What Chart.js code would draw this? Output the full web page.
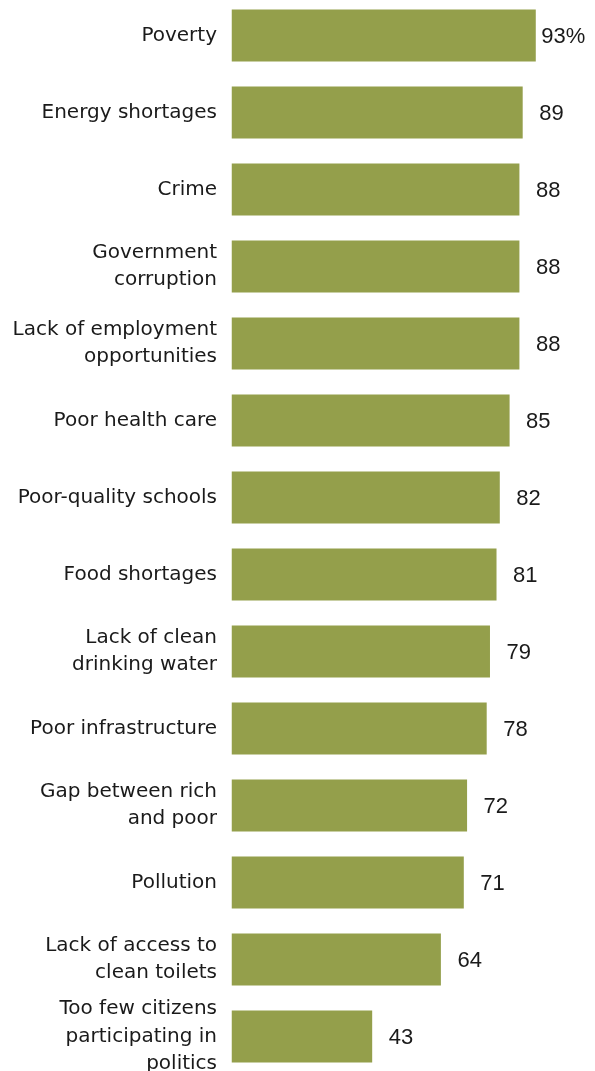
<!DOCTYPE html>
<html>
<head>
  <meta charset="utf-8" />
  <title>Problems in the country</title>
  <script src="https://cdn.jsdelivr.net/npm/chart.js@4.4.0/dist/chart.umd.min.js"></script>
  <style>
    html, body {
      margin: 0;
      padding: 0;
      background: #fff;
      overflow: hidden;
    }
    .chart-container {
      position: absolute;
      left: 0;
      top: -3px;
      width: 595px;
      height: 1078px;
    }
  </style>
</head>
<body>

<div class="chart-container">
  <canvas id="problemsChart"></canvas>
</div>

<script>
  // Share saying each is a very big / moderately big problem (%)
  const categories = [
    'Poverty',
    'Energy shortages',
    'Crime',
    ['Government', 'corruption'],
    ['Lack of employment', 'opportunities'],
    'Poor health care',
    'Poor-quality schools',
    'Food shortages',
    ['Lack of clean', 'drinking water'],
    'Poor infrastructure',
    ['Gap between rich', 'and poor'],
    'Pollution',
    ['Lack of access to', 'clean toilets'],
    ['Too few citizens', 'participating in', 'politics']
  ];
  const values = [93, 89, 88, 88, 88, 85, 82, 81, 79, 78, 72, 71, 64, 43];

  const barColor = '#949f4b';
  const textColor = '#1a1a1a';

  // Numbers written just past the end of each bar
  const valueLabels = {
    id: 'valueLabels',
    afterDatasetsDraw(chart) {
      const ctx = chart.ctx;
      const meta = chart.getDatasetMeta(0);
      ctx.save();
      ctx.font = '22px "Liberation Sans", Arial, sans-serif';
      ctx.fillStyle = textColor;
      ctx.textAlign = 'left';
      ctx.textBaseline = 'middle';
      meta.data.forEach((bar, i) => {
        const v = values[i];
        const text = i === 0 ? v + '%' : String(v);
        const gap = i === 0 ? 5.5 : 16.5;
        ctx.fillText(text, bar.x + gap, bar.y + 1);
      });
      ctx.restore();
    }
  };

  const ctx = document.getElementById('problemsChart').getContext('2d');
  new Chart(ctx, {
    type: 'bar',
    data: {
      labels: categories,
      datasets: [{
        data: values,
        backgroundColor: barColor,
        borderWidth: 0,
        barPercentage: 0.675,
        categoryPercentage: 1
      }]
    },
    options: {
      indexAxis: 'y',
      responsive: true,
      maintainAspectRatio: false,
      animation: false,
      layout: { padding: 0 },
      plugins: {
        legend: { display: false },
        tooltip: { enabled: false },
        title: { display: false }
      },
      scales: {
        x: {
          display: false,
          min: 0,
          max: 111.1
        },
        y: {
          // fixed label column, and let the bars use the full height
          afterFit(scale) {
            scale.width = 231.5;
            scale.paddingTop = 0;
            scale.paddingBottom = 0;
          },
          grid: { display: false, drawTicks: false },
          border: { display: false },
          ticks: {
            autoSkip: false,
            padding: 14.5,
            color: textColor,
            font: { family: '"DejaVu Sans", sans-serif', size: 20, lineHeight: 1.375 }
          }
        }
      }
    },
    plugins: [valueLabels]
  });
</script>

</body>
</html>
